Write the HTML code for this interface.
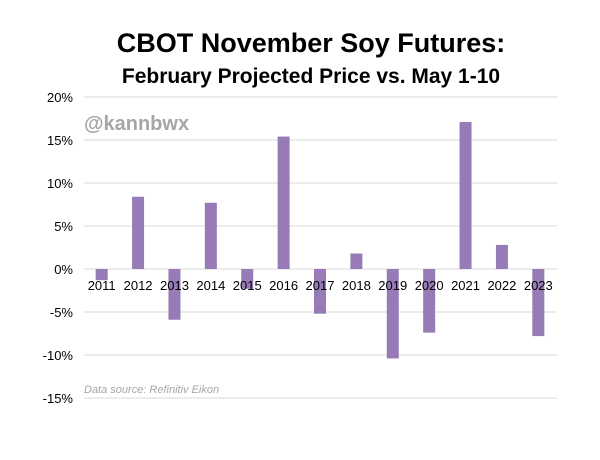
<!DOCTYPE html>
<html><head><meta charset="utf-8"><style>
body{margin:0;background:#fff;width:600px;height:455px;overflow:hidden;font-family:"Liberation Sans",Arial,sans-serif}
</style></head><body>
<svg id="chart" width="600" height="455" xmlns="http://www.w3.org/2000/svg">
<text x="311" y="52" text-anchor="middle" font-size="27" font-weight="bold" fill="#000">CBOT November Soy Futures:</text>
<text x="311" y="83" text-anchor="middle" font-size="21" font-weight="bold" fill="#000">February Projected Price vs. May 1-10</text>
<g id="grid"></g><g id="bars"></g><g id="labels"></g>
<text x="84" y="130" font-size="20" font-weight="bold" fill="#a6a6a6">@kannbwx</text>
<text x="84" y="393" font-size="11" font-style="italic" fill="#a6a6a6">Data source: Refinitiv Eikon</text>
</svg>
<script>
const categories=["2011","2012","2013","2014","2015","2016","2017","2018","2019","2020","2021","2022","2023"];
const values=[-1.3,8.4,-5.9,7.7,-2.3,15.4,-5.2,1.8,-10.4,-7.4,17.1,2.8,-7.8];
const yTicks=[20,15,10,5,0,-5,-10,-15];
const NS="http://www.w3.org/2000/svg";
const x0=84,x1=557,yTop=97,yBot=398,vMax=20,vMin=-15;
const y=v=>yTop+(vMax-v)/(vMax-vMin)*(yBot-yTop);
const step=(x1-x0)/categories.length;
const xc=i=>x0+step*(i+0.5)-0.5;
function mk(t,a){const e=document.createElementNS(NS,t);for(const k in a)e.setAttribute(k,a[k]);return e;}
const grid=document.getElementById('grid'),bars=document.getElementById('bars'),labels=document.getElementById('labels');
yTicks.forEach(t=>{
 const l=mk('line',{x1:x0,x2:x1,y1:y(t),y2:y(t),stroke:'#d9d9d9','stroke-width':1});
 
 
 grid.appendChild(l);
 const tx=mk('text',{x:73,y:y(t)+5,'text-anchor':'end','font-size':13,fill:'#000'});
 tx.textContent=t+'%';
 
 
 grid.appendChild(tx);
});
values.forEach((v,i)=>{
 const top=Math.min(y(v),y(0)),h=Math.abs(y(v)-y(0));
 const r=mk('rect',{x:xc(i)-6,y:top,width:12,height:h,fill:'#967bb6'});
 
 
 bars.appendChild(r);
 const tx=mk('text',{x:xc(i),y:y(0)+21,'text-anchor':'middle','font-size':13,fill:'#000'});
 tx.textContent=categories[i];
 
 
 labels.appendChild(tx);
});
</script>
</body></html>
